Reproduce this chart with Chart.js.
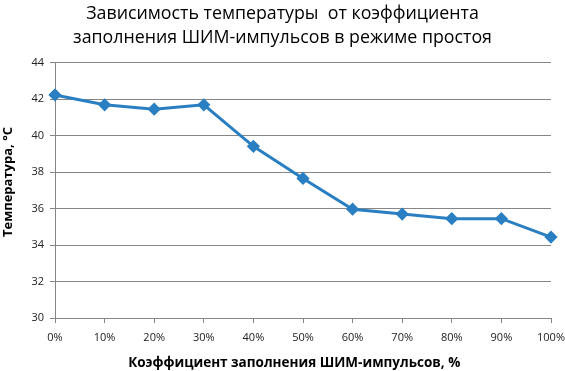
<!DOCTYPE html>
<html><head><meta charset="utf-8">
<script src="https://cdn.jsdelivr.net/npm/chart.js@4"></script>
<style>html,body{margin:0;padding:0;background:#fff}#wrap{width:565px;height:371px}</style>
</head><body><div id="wrap"><canvas id="c" width="565" height="371"></canvas></div>
<script>
const categories = ["0%","10%","20%","30%","40%","50%","60%","70%","80%","90%","100%"];
const temperature = [42.24, 41.7, 41.46, 41.7, 39.42, 37.66, 35.97, 35.7, 35.45, 35.45, 34.44];
const yTicks = [30, 32, 34, 36, 38, 40, 42, 44];
const titleLines = ["Зависимость температуры  от коэффициента", "заполнения ШИМ-импульсов в режиме простоя"];
const xTitle = "Коэффициент заполнения ШИМ-импульсов, %     ";
const yTitle = "     Температура, °C";

const lineColor = "#2a7fc2";
const gridColor = "#868686";
new Chart(document.getElementById('c'), {
  type: 'line',
  data: { labels: categories, datasets: [{ data: temperature, borderColor: lineColor, backgroundColor: lineColor,
    borderWidth: 3, pointStyle: 'rectRot', pointRadius: 4.5, pointHoverRadius: 4.5, tension: 0 }] },
  options: {
    responsive: false, animation: false,
    layout: { padding: { left: 0, right: 0, top: 0, bottom: 0 } },
    plugins: {
      legend: { display: false }, tooltip: { enabled: false },
      title: { display: true, text: titleLines, color: '#000',
        font: { family: 'Open Sans', size: 17.8, weight: 'normal', lineHeight: 1.4 }, padding: { top: 1, bottom: 12 } }
    },
    scales: {
      x: { offset: false,
        grid: { drawOnChartArea: false, drawTicks: true, tickLength: 5, color: gridColor },
        border: { color: gridColor },
        ticks: { color: '#222', font: { family: 'Open Sans', size: 11 }, maxRotation: 0, padding: 8 },
        title: { display: true, text: xTitle, color: '#000', font: { family: 'Open Sans', size: 13.5, weight: 'bold' }, padding: { top: 11, bottom: 0 } },
        afterFit: s => { s.height = 53; s.paddingRight = 14; s.paddingLeft = 0; }
      },
      y: { min: 30, max: 44,
        afterBuildTicks: s => { s.ticks = yTicks.map(v => ({ value: v })); },
        grid: { color: gridColor, tickLength: 5 },
        border: { color: gridColor },
        ticks: { color: '#222', font: { family: 'Open Sans', size: 11 }, padding: 6 },
        title: { display: true, text: yTitle, color: '#000', font: { family: 'Open Sans', size: 13, weight: 'bold' }, padding: { top: 0, bottom: 0 } },
        afterFit: s => { s.width = 55; }
      }
    }
  }
});
</script></body></html>
